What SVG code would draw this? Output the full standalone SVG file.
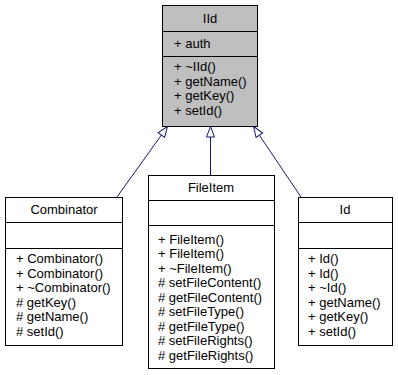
<svg xmlns="http://www.w3.org/2000/svg" width="398" height="375" viewBox="0 0 398 375">
  <defs>
    <marker id="inherit" viewBox="0 0 12 10" refX="11.5" refY="5" markerWidth="12" markerHeight="10" markerUnits="userSpaceOnUse" orient="auto">
      <path d="M1,1 L11.5,5 L1,9 Z" fill="#ffffff" stroke="#191970" stroke-width="1"/>
    </marker>
  </defs>
  <style>
    .box { fill: #ffffff; stroke: #000000; stroke-width: 1; }
    .base { fill: #bfbfbf; }
    .div { stroke: #000000; stroke-width: 1; }
    text { font-family: "Liberation Sans", Arial, Helvetica, sans-serif; font-size: 13px; fill: #000000; }
    .title { text-anchor: middle; }
    .edge { fill: none; stroke: #191970; stroke-width: 1; marker-end: url(#inherit); }
  </style>
  <rect width="398" height="375" fill="#ffffff"/>

  <!-- base class -->
  <g id="IId">
    <rect class="box base" x="162.5" y="5.5" width="95" height="121"/>
    <line class="div" x1="162.5" y1="31.5" x2="257.5" y2="31.5"/>
    <line class="div" x1="162.5" y1="56.5" x2="257.5" y2="56.5"/>
    <text class="title" x="210" y="23">IId</text>
    <text x="174" y="48">+ auth</text>
    <text x="174" y="71">+ ~IId()</text>
    <text x="174" y="85.5">+ getName()</text>
    <text x="174" y="100">+ getKey()</text>
    <text x="174" y="114.5">+ setId()</text>
  </g>

  <g id="Combinator">
    <rect class="box" x="5.5" y="197.5" width="117" height="148"/>
    <line class="div" x1="5.5" y1="222.5" x2="122.5" y2="222.5"/>
    <line class="div" x1="5.5" y1="248.5" x2="122.5" y2="248.5"/>
    <text class="title" x="64" y="214">Combinator</text>
    <text x="16" y="263">+ Combinator()</text>
    <text x="16" y="277.5">+ Combinator()</text>
    <text x="16" y="292">+ ~Combinator()</text>
    <text x="16" y="306.5"># getKey()</text>
    <text x="16" y="321"># getName()</text>
    <text x="16" y="335.5"># setId()</text>
  </g>

  <g id="FileItem">
    <rect class="box" x="148.5" y="175.5" width="126" height="193"/>
    <line class="div" x1="148.5" y1="200.5" x2="274.5" y2="200.5"/>
    <line class="div" x1="148.5" y1="225.5" x2="274.5" y2="225.5"/>
    <text class="title" x="211" y="192">FileItem</text>
    <text x="158" y="243.5">+ FileItem()</text>
    <text x="158" y="258">+ FileItem()</text>
    <text x="158" y="272.5">+ ~FileItem()</text>
    <text x="158" y="287"># setFileContent()</text>
    <text x="158" y="301.5"># getFileContent()</text>
    <text x="158" y="316"># setFileType()</text>
    <text x="158" y="330.5"># getFileType()</text>
    <text x="158" y="345"># setFileRights()</text>
    <text x="158" y="359.5"># getFileRights()</text>
  </g>

  <g id="Id">
    <rect class="box" x="298.5" y="197.5" width="94" height="148"/>
    <line class="div" x1="298.5" y1="222.5" x2="392.5" y2="222.5"/>
    <line class="div" x1="298.5" y1="248.5" x2="392.5" y2="248.5"/>
    <text class="title" x="345" y="214">Id</text>
    <text x="308" y="263">+ Id()</text>
    <text x="308" y="277.5">+ Id()</text>
    <text x="308" y="292">+ ~Id()</text>
    <text x="308" y="306.5">+ getName()</text>
    <text x="308" y="321">+ getKey()</text>
    <text x="308" y="335.5">+ setId()</text>
  </g>

  <!-- inheritance edges -->
  <g id="edges">
    <path class="edge" d="M117,197 L167.5,126.5"/>
    <path class="edge" d="M210.5,175 L210.5,126.5"/>
    <path class="edge" d="M301,197 L253.5,126.5"/>
  </g>
</svg>
